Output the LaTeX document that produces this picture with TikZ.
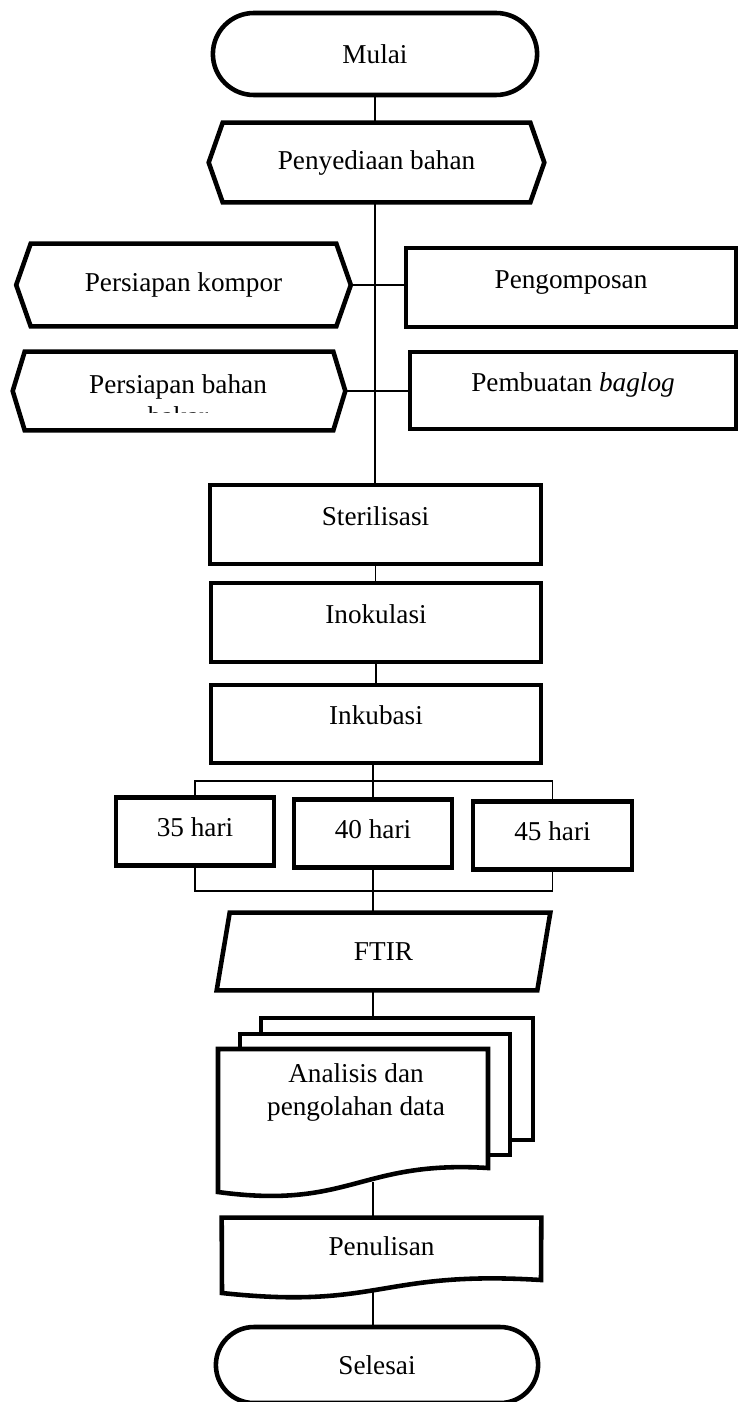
\documentclass[tikz,border=0pt]{standalone}
\usepackage{fontspec}
\setmainfont{Liberation Serif}
\usetikzlibrary{shapes.misc}

% outline of a preparation (hexagon) box around a plain node
\newcommand{\hexline}[2]{%
  \draw[thickline] (#1.north west) -- (#1.north east) -- ([xshift=#2]#1.east)
    -- (#1.south east) -- (#1.south west) -- ([xshift=-#2]#1.west) -- cycle;
  \coordinate (#1-r) at ([xshift=#2]#1.east);}

\begin{document}
\begin{tikzpicture}[x=0.02cm,y=-0.02cm,
    font=\fontsize{15.5}{18.5}\selectfont,
    thickline/.style={line width=2.6pt, line join=miter},
    link/.style={line width=1pt},
    bracket/.style={line width=0.6pt},
    terminal/.style={rounded rectangle, draw, thickline},
    procbox/.style={rectangle, draw, thickline, text height=10.5pt, text depth=9.5pt},
    daybox/.style={rectangle, draw, thickline, minimum width=3.16cm, minimum height=1.36cm,
      text height=10.5pt, text depth=5.3pt},
    shapebox/.style={rectangle, inner sep=0pt},
    sheet/.style={rectangle, draw, thickline, fill=white}]
\useasboundingbox (0,0) rectangle (738,1402);

\node[terminal, minimum width=6.72cm, minimum height=1.64cm] (mulai) at (375,54) {Mulai};
\node[shapebox, minimum width=6.14cm, minimum height=1.58cm] (prep) at (376.5,162.5) {Penyediaan bahan};
\hexline{prep}{0.28cm}

% bahan pendukung
\node[shapebox, minimum width=6.1cm, minimum height=1.64cm] (kompor) at (183.5,285) {Persiapan kompor};
\hexline{kompor}{0.29cm}
\node[shapebox, minimum width=6.16cm, minimum height=1.56cm] (bakar) at (179,391) {};
\hexline{bakar}{0.24cm}
\begin{scope}
  \clip (0,0) rectangle (738,412);
  \node[align=center] (bakartxt) at (178,400) {Persiapan bahan\\bakar};
\end{scope}
\node[procbox, minimum width=6.6cm, minimum height=1.58cm] (kompos) at (571,287.5) {Pengomposan};
\node[procbox, minimum width=6.52cm, minimum height=1.54cm] (baglog) at (573,390.5) {Pembuatan \textit{baglog}};

\node[procbox, minimum width=6.62cm, minimum height=1.58cm] (steril) at (375.5,524.5) {Sterilisasi};
\node[procbox, minimum width=6.6cm, minimum height=1.58cm] (inokul) at (376,622.5) {Inokulasi};
\node[procbox, minimum width=6.6cm, minimum height=1.56cm] (inkub) at (376,724) {Inkubasi};

\node[daybox] (h35) at (195,831.5) {35 hari};
\node[daybox] (h40) at (373,833.5) {40 hari};
\node[daybox, minimum width=3.18cm] (h45) at (552.5,835.5) {45 hari};

\node[shapebox, minimum width=6.4cm, minimum height=1.54cm] (ftir) at (383.5,951.5) {FTIR};
\draw[thickline] ([xshift=0.13cm]ftir.north west) -- ([xshift=0.13cm]ftir.north east)
  -- ([xshift=-0.13cm]ftir.south east) -- ([xshift=-0.13cm]ftir.south west) -- cycle;

% tumpukan dokumen
\node[sheet, minimum width=5.44cm, minimum height=2.44cm] (sheet3) at (397,1079) {};
\node[sheet, minimum width=5.4cm, minimum height=2.42cm] (sheet2) at (375,1094.5) {};
\draw[thickline, fill=white] (218,1049) -- (488,1049) -- (488,1168)
  .. controls (360,1160) and (350,1210) .. (218,1192) -- cycle;
\node[align=center] (anal) at (356,1092.5) {Analisis dan\\pengolahan data};
\coordinate (analfoot) at (373,1182);

\node[shapebox, minimum width=6.38cm, minimum height=1.08cm, text height=12pt, text depth=0pt] (tulis) at (381.5,1245) {Penulisan};
\draw[thickline] (tulis.north west) -- (tulis.north east) -- (541,1280)
  .. controls (380,1270) and (380,1310) .. (222,1293) -- cycle;
\coordinate (tulisfoot) at (373,1290);

\node[terminal, minimum width=6.68cm, minimum height=1.52cm] (selesai) at (377,1365) {Selesai};

% garis penghubung
\coordinate (splitlvl) at (0,781);
\coordinate (joinlvl) at (0,891);
\draw[link] (mulai.south) -- (mulai.south |- prep.north);
\draw[link] (prep.south -| mulai.south) -- (steril.north -| mulai.south);
\draw[link] (kompor-r) -- (kompor-r -| kompos.west);
\draw[link] (bakar-r) -- (bakar-r -| baglog.west);
\draw[link] (steril.south) -- (steril.south |- inokul.north);
\draw[link] (inokul.south) -- (inokul.south |- inkub.north);
\draw[link] (inkub.south -| h40.north) -- (h40.north);
\draw[bracket] (h35.north) |- (splitlvl -| h40.north) -| (h45.north);
\draw[bracket] (h35.south) |- (joinlvl -| h40.south) -| (h45.south);
\draw[link] (h40.south) -- (h40.south |- ftir.north);
\draw[link] (h40.south |- ftir.south) -- (h40.south |- sheet3.north);
\draw[link] (analfoot) -- (analfoot |- tulis.north);
\draw[link] (tulisfoot) -- (tulisfoot |- selesai.north);
\end{tikzpicture}
\end{document}
